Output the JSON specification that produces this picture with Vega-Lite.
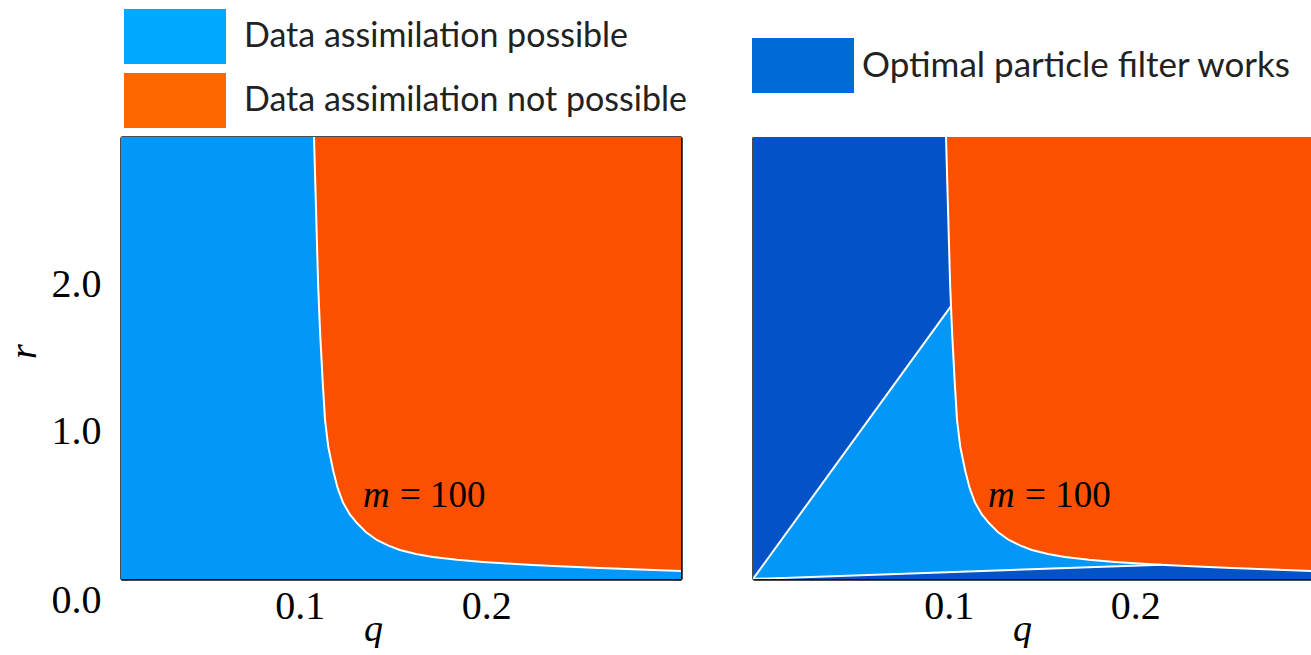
{
  "$schema": "https://vega.github.io/schema/vega-lite/v6.json",
  "padding": {"left": 5, "top": 9, "right": 0, "bottom": 0},
  "background": "white",
  "spacing": 65,
  "resolve": {"scale": {"color": "independent"}, "legend": {"color": "independent"}},
  "datasets": {
    "curve": [
      {"q": 0.1034, "r": 3.0}, {"q": 0.1045, "r": 2.5}, {"q": 0.1056, "r": 2.0}, {"q": 0.1066, "r": 1.69},
      {"q": 0.1080, "r": 1.35}, {"q": 0.1093, "r": 1.08}, {"q": 0.1110, "r": 0.90}, {"q": 0.1136, "r": 0.74},
      {"q": 0.1160, "r": 0.62}, {"q": 0.1189, "r": 0.52}, {"q": 0.1225, "r": 0.44}, {"q": 0.1264, "r": 0.38},
      {"q": 0.1315, "r": 0.315}, {"q": 0.1371, "r": 0.265}, {"q": 0.1430, "r": 0.228}, {"q": 0.1494, "r": 0.197},
      {"q": 0.1580, "r": 0.170}, {"q": 0.1671, "r": 0.150}, {"q": 0.1800, "r": 0.131}, {"q": 0.1939, "r": 0.116},
      {"q": 0.2070, "r": 0.105}, {"q": 0.2207, "r": 0.095}, {"q": 0.2380, "r": 0.085}, {"q": 0.2566, "r": 0.075},
      {"q": 0.2780, "r": 0.064}, {"q": 0.3000, "r": 0.054}
    ],
    "tri": [
      {"q": 0, "lo": 0, "hi": 0}, {"q": 0.106, "lo": 0.0466, "hi": 1.85}, {"q": 0.1066, "lo": 0.0469, "hi": 1.69},
      {"q": 0.1080, "lo": 0.0475, "hi": 1.35}, {"q": 0.1093, "lo": 0.0481, "hi": 1.08}, {"q": 0.1110, "lo": 0.0488, "hi": 0.90},
      {"q": 0.1136, "lo": 0.0500, "hi": 0.74}, {"q": 0.1160, "lo": 0.0510, "hi": 0.62}, {"q": 0.1189, "lo": 0.0523, "hi": 0.52},
      {"q": 0.1225, "lo": 0.0539, "hi": 0.44}, {"q": 0.1264, "lo": 0.0556, "hi": 0.38}, {"q": 0.1315, "lo": 0.0579, "hi": 0.315},
      {"q": 0.1371, "lo": 0.0603, "hi": 0.265}, {"q": 0.1430, "lo": 0.0629, "hi": 0.228}, {"q": 0.1494, "lo": 0.0657, "hi": 0.197},
      {"q": 0.1580, "lo": 0.0695, "hi": 0.170}, {"q": 0.1671, "lo": 0.0735, "hi": 0.150}, {"q": 0.1800, "lo": 0.0792, "hi": 0.131},
      {"q": 0.1939, "lo": 0.0853, "hi": 0.116}, {"q": 0.2070, "lo": 0.0911, "hi": 0.105}, {"q": 0.2190, "lo": 0.0964, "hi": 0.0964}
    ],
    "seg": [
      {"seg": "a", "q": 0, "r": 0}, {"seg": "a", "q": 0.106, "r": 1.85},
      {"seg": "b", "q": 0, "r": 0}, {"seg": "b", "q": 0.219, "r": 0.0964}
    ],
    "bg": [{"q0": 0, "q1": 0.3, "r0": 0, "r1": 3}],
    "leg1": [{"region": "Data assimilation possible"}, {"region": "Data assimilation not possible"}],
    "leg2": [{"region": "Optimal particle filter works"}],
    "lab1": [{"q": 0.1296, "r": 0.49, "sym": "m", "val": "= 100"}],
    "lab2": [{"q": 0.1259, "r": 0.49, "sym": "m", "val": "= 100"}]
  },
  "config": {
    "view": {"stroke": null},
    "axis": {
      "grid": false, "labelFont": "Liberation Serif", "labelFontSize": 40, "labelColor": "#000",
      "titleFont": "Liberation Serif", "titleFontSize": 38, "titleFontStyle": "italic", "titleFontWeight": "normal",
      "titleColor": "#000", "domainColor": "#111", "domainWidth": 2.5, "tickColor": "#111", "tickWidth": 1.6,
      "zindex": 1, "labelOverlap": false, "labelFlush": false
    },
    "legend": {
      "orient": "none", "title": null, "symbolType": "M-1.855,-1H1.855V1H-1.855Z", "symbolSize": 3025,
      "symbolStrokeWidth": 0, "labelFont": "Lato", "labelFontSize": 34, "labelColor": "#222",
      "rowPadding": 9, "padding": 0, "labelLimit": 0, "symbolOpacity": 1
    }
  },
  "hconcat": [
    {
      "width": 560, "height": 442,
      "resolve": {"axis": {"x": "independent", "y": "independent"}},
      "layer": [
        {
          "data": {"name": "bg"},
          "mark": {"type": "rect", "color": "#0397F8"},
          "encoding": {
            "x": {"field": "q0", "type": "quantitative", "scale": {"domain": [0, 0.3], "nice": false, "zero": false},
              "axis": {"orient": "bottom", "values": [0.05, 0.1, 0.15, 0.2, 0.25],
                "labelExpr": "datum.value == 0.1 || datum.value == 0.2 ? format(datum.value, '.1f') : ''",
                "tickSize": -7, "labelPadding": 14, "labelOffset": -8, "title": "q", "titlePadding": -16, "titleX": 252}},
            "x2": {"field": "q1"},
            "y": {"field": "r0", "type": "quantitative", "scale": {"domain": [0, 3], "nice": false},
              "axis": {"orient": "left", "values": [0, 0.5, 1, 1.5, 2, 2.5],
                "labelExpr": "datum.value == 0 || datum.value == 1 || datum.value == 2 ? format(datum.value, '.1f') : ''",
                "tickSize": -7, "labelPadding": 27,
                "labelOffset": {"condition": {"test": "datum.value === 0", "value": 21}, "value": 0},
                "title": "r", "titlePadding": 8, "titleY": 214}},
            "y2": {"field": "r1"}
          }
        },
        {
          "data": {"name": "curve"},
          "mark": {"type": "area", "color": "#FA5000", "clip": true},
          "encoding": {
            "x": {"field": "q", "type": "quantitative", "axis": null},
            "y": {"field": "r", "type": "quantitative", "axis": null},
            "y2": {"datum": 3}
          }
        },
        {
          "data": {"name": "curve"},
          "mark": {"type": "line", "color": "white", "strokeWidth": 2, "clip": true},
          "encoding": {
            "x": {"field": "q", "type": "quantitative",
              "axis": {"orient": "top", "values": [0.05, 0.1, 0.15, 0.2, 0.25], "labels": false, "tickSize": -7, "title": null}},
            "y": {"field": "r", "type": "quantitative",
              "axis": {"orient": "right", "values": [0, 0.5, 1, 1.5, 2, 2.5], "labels": false, "tickSize": -7, "title": null}}
          }
        },
        {
          "data": {"name": "lab1"},
          "mark": {"type": "text", "font": "Liberation Serif", "fontSize": 37, "fontStyle": "italic", "align": "left", "baseline": "alphabetic", "color": "#000"},
          "encoding": {
            "x": {"field": "q", "type": "quantitative", "axis": null},
            "y": {"field": "r", "type": "quantitative", "axis": null},
            "text": {"field": "sym"}
          }
        },
        {
          "data": {"name": "lab1"},
          "mark": {"type": "text", "font": "Liberation Serif", "fontSize": 37, "align": "left", "baseline": "alphabetic", "dx": 37, "color": "#000"},
          "encoding": {
            "x": {"field": "q", "type": "quantitative", "axis": null},
            "y": {"field": "r", "type": "quantitative", "axis": null},
            "text": {"field": "val"}
          }
        },
        {
          "data": {"name": "leg1"},
          "mark": {"type": "rect", "opacity": 0},
          "encoding": {
            "color": {"field": "region", "type": "nominal",
              "scale": {"domain": ["Data assimilation possible", "Data assimilation not possible"], "range": ["#00A8FE", "#FE6600"]},
              "legend": {"orient": "none", "legendX": 26.5, "legendY": -128, "labelOffset": 41.5}}
          }
        }
      ]
    },
    {
      "width": 560, "height": 442,
      "layer": [
        {
          "data": {"name": "bg"},
          "mark": {"type": "rect", "color": "#0353C6"},
          "encoding": {
            "x": {"field": "q0", "type": "quantitative", "scale": {"domain": [0, 0.3], "nice": false, "zero": false},
              "axis": {"orient": "bottom", "values": [0.1, 0.2], "format": ".1f", "ticks": false, "labelPadding": 7, "labelOffset": 9,
                "title": "q", "titlePadding": -16, "titleX": 269}},
            "x2": {"field": "q1"},
            "y": {"field": "r0", "type": "quantitative", "scale": {"domain": [0, 3], "nice": false},
              "axis": {"orient": "left", "ticks": false, "labels": false, "title": null}},
            "y2": {"field": "r1"}
          }
        },
        {
          "data": {"name": "tri"},
          "mark": {"type": "area", "color": "#0397F8"},
          "encoding": {
            "x": {"field": "q", "type": "quantitative"},
            "y": {"field": "lo", "type": "quantitative"},
            "y2": {"field": "hi"}
          }
        },
        {
          "data": {"name": "curve"},
          "mark": {"type": "area", "color": "#FA5000", "clip": true},
          "encoding": {
            "x": {"field": "q", "type": "quantitative"},
            "y": {"field": "r", "type": "quantitative"},
            "y2": {"datum": 3}
          }
        },
        {
          "data": {"name": "curve"},
          "mark": {"type": "line", "color": "white", "strokeWidth": 2, "clip": true},
          "encoding": {
            "x": {"field": "q", "type": "quantitative"},
            "y": {"field": "r", "type": "quantitative"}
          }
        },
        {
          "data": {"name": "seg"},
          "mark": {"type": "line", "color": "white", "strokeWidth": 2, "clip": true},
          "encoding": {
            "x": {"field": "q", "type": "quantitative"},
            "y": {"field": "r", "type": "quantitative"},
            "detail": {"field": "seg"}
          }
        },
        {
          "data": {"name": "lab2"},
          "mark": {"type": "text", "font": "Liberation Serif", "fontSize": 37, "fontStyle": "italic", "align": "left", "baseline": "alphabetic", "color": "#000"},
          "encoding": {
            "x": {"field": "q", "type": "quantitative"},
            "y": {"field": "r", "type": "quantitative"},
            "text": {"field": "sym"}
          }
        },
        {
          "data": {"name": "lab2"},
          "mark": {"type": "text", "font": "Liberation Serif", "fontSize": 37, "align": "left", "baseline": "alphabetic", "dx": 37, "color": "#000"},
          "encoding": {
            "x": {"field": "q", "type": "quantitative"},
            "y": {"field": "r", "type": "quantitative"},
            "text": {"field": "val"}
          }
        },
        {
          "data": {"name": "leg2"},
          "mark": {"type": "rect", "opacity": 0},
          "encoding": {
            "color": {"field": "region", "type": "nominal",
              "scale": {"domain": ["Optimal particle filter works"], "range": ["#006AD7"]},
              "legend": {"orient": "none", "legendX": 22.5, "legendY": -99, "labelOffset": 31.5, "labelFontSize": 35}}
          }
        }
      ]
    }
  ]
}
